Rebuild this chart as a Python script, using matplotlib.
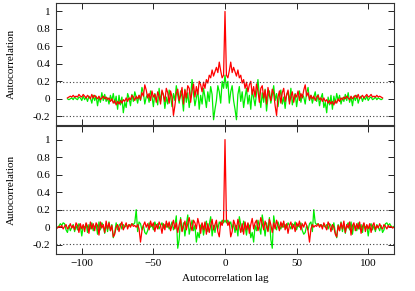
import numpy as np
import matplotlib
matplotlib.use("Agg")
import matplotlib.pyplot as plt

# one-sided autocorrelation (lag 0..N), mirrored to negative lags
top_red = [1.00, 0.27, 0.24, 0.32, 0.42, 0.30, 0.36, 0.31, 0.26, 0.33,
           0.24, 0.27, 0.18, 0.22, 0.12, 0.19, 0.08, 0.16, 0.20, 0.05,
           0.14, 0.02, 0.17, 0.09, -0.04, 0.12, 0.15, 0.01, 0.10, -0.06,
           0.13, 0.04, -0.02, 0.11, 0.06, -0.08, -0.19, 0.02, 0.09, -0.05,
           0.07, 0.12, -0.03, 0.04, 0.10, -0.06, 0.03, 0.08, -0.04, 0.05,
           0.02, 0.09, -0.02, 0.06, 0.01, 0.10, 0.16, 0.03, 0.07, -0.01,
           0.04, 0.00, 0.03, -0.02, 0.02, 0.04, -0.01, 0.01, -0.03, 0.01,
           -0.03, -0.01, -0.05, -0.02, -0.06, -0.03, -0.07, -0.02, -0.05, 0.00,
           -0.03, 0.01, -0.01, 0.02, 0.00, 0.03, 0.01, -0.01, 0.03, 0.00,
           0.02, 0.04, 0.01, 0.05, 0.00, 0.02, 0.04, 0.01, 0.03, 0.05,
           0.02, 0.03, 0.05, 0.02, 0.03, 0.02, 0.04, 0.02, 0.03, 0.02,
           0.01]
top_green = [0.27, 0.12, 0.20, -0.05, 0.08, 0.15, -0.02, -0.12, -0.24, 0.05,
             0.14, -0.03, 0.08, -0.10, 0.02, 0.12, -0.06, 0.04, -0.12, 0.10,
             0.01, -0.08, 0.06, 0.22, 0.03, -0.10, 0.07, -0.04, 0.11, -0.14,
             0.02, 0.09, -0.05, 0.04, 0.15, -0.02, 0.06, -0.09, 0.03, 0.10,
             -0.06, 0.02, -0.11, 0.05, 0.08, -0.03, 0.12, -0.07, 0.01, 0.06,
             -0.09, 0.03, 0.09, -0.04, 0.05, 0.02, -0.06, 0.07, 0.13, -0.02,
             0.04, -0.05, 0.02, 0.08, -0.03, 0.05, -0.08, 0.01, 0.06, -0.10,
             -0.04, -0.16, 0.02, -0.07, 0.04, -0.12, 0.03, -0.05, 0.06, -0.02,
             0.04, -0.06, 0.01, -0.03, 0.05, -0.02, 0.07, -0.04, 0.02, -0.08,
             0.03, -0.02, 0.04, -0.05, 0.01, 0.03, -0.03, 0.02, -0.01, 0.03,
             -0.02, 0.01, 0.02, -0.01, 0.00, 0.02, -0.01, 0.01, 0.00, -0.01,
             0.00]
bot_red = [1.00, 0.09, 0.02, 0.06, -0.11, -0.05, 0.08, 0.03, -0.03, 0.09,
           0.02, -0.06, 0.04, -0.08, 0.06, -0.03, 0.05, -0.07, 0.03, 0.10,
           -0.02, 0.05, 0.08, -0.04, 0.02, 0.11, 0.04, -0.03, 0.07, 0.01,
           -0.05, 0.09, 0.03, -0.06, 0.05, -0.02, 0.08, 0.02, -0.04, 0.06,
           0.00, 0.07, -0.03, 0.04, -0.07, 0.02, 0.06, -0.02, 0.03, -0.05,
           0.05, 0.01, 0.07, -0.03, 0.04, 0.00, 0.06, 0.02, -0.04, -0.17,
           -0.02, 0.03, 0.00, 0.02, 0.01, 0.04, 0.00, 0.03, -0.02, 0.05,
           0.01, -0.03, 0.06, 0.02, -0.05, 0.03, 0.00, -0.08, -0.11, 0.02,
           -0.04, 0.05, -0.02, 0.07, -0.06, 0.03, -0.01, 0.06, -0.09, 0.02,
           0.05, -0.04, 0.04, -0.02, 0.06, -0.07, 0.01, 0.05, -0.05, 0.03,
           -0.02, 0.04, -0.06, 0.02, 0.05, -0.03, 0.02, -0.01, 0.04, 0.00,
           -0.02, 0.03, 0.01, -0.02, 0.02, 0.00, 0.01, -0.01, 0.00]
bot_green = [0.08, 0.05, 0.08, 0.03, 0.06, -0.02, 0.04, -0.06, 0.02, -0.10,
             0.12, 0.03, -0.05, 0.07, 0.01, -0.09, 0.04, 0.02, -0.12, -0.06,
             -0.17, 0.02, -0.04, 0.08, 0.00, -0.08, 0.14, 0.03, -0.10, 0.05,
             -0.04, 0.11, -0.14, -0.24, 0.13, 0.02, -0.03, 0.06, 0.01, -0.02,
             0.04, 0.00, 0.03, -0.01, 0.05, 0.02, -0.02, 0.04, 0.01, 0.06,
             -0.03, 0.03, 0.00, 0.05, -0.04, -0.08, -0.06, 0.02, -0.03, 0.04,
             0.06, -0.05, 0.20, 0.05, 0.03, 0.04, 0.02, 0.03, 0.01, 0.02,
             0.00, 0.03, -0.02, 0.04, 0.02, -0.03, 0.05, -0.06, -0.12, 0.03,
             -0.04, 0.06, -0.05, 0.04, -0.07, 0.02, 0.05, -0.03, 0.06, -0.08,
             0.03, 0.01, -0.04, 0.05, -0.02, 0.03, -0.06, 0.04, -0.01, 0.02,
             -0.10, 0.01, 0.04, -0.03, 0.02, -0.05, 0.03, 0.00, -0.04, 0.02,
             -0.06, -0.03, 0.04, 0.05, 0.02, 0.04, 0.01, 0.00, 0.01]
conf = 0.195
yticks = [-0.2, 0, 0.2, 0.4, 0.6, 0.8, 1]
ytick_labels = ["-0.2", "0", "0.2", "0.4", "0.6", "0.8", "1"]
xticks = [-100, -50, 0, 50, 100]


def mirror(half):
    half = np.asarray(half)
    n = len(half) - 1
    return np.arange(-n, n + 1), np.concatenate([half[:0:-1], half])


plt.rcParams['font.family'] = ['Liberation Serif', 'DejaVu Serif']
plt.rcParams['font.size'] = 8

fig = plt.figure(figsize=(4.15, 2.91), dpi=100)
W, H = 415, 291
left, right = 56 / W, 394 / W
ax1 = fig.add_axes([left, 1 - 125 / H, right - left, 122.3 / H])
ax2 = fig.add_axes([left, 1 - 253.5 / H, right - left, 127.5 / H])

panels = [(ax1, top_green, top_red, (-0.3, 1.1)),
          (ax2, bot_green, bot_red, (-0.3, 1.155))]
for ax, g, r, ylim in panels:
    lg, vg = mirror(g)
    lr, vr = mirror(r)
    ax.plot(lg, vg, color='#00ee00', lw=0.9)
    ax.plot(lr, vr, color='#ff0000', lw=0.9)
    for c in (conf, -conf):
        ax.axhline(c, color='0.25', lw=0.8, ls=(0, (1, 2)))
    ax.set_xlim(-118, 118)
    ax.set_ylim(*ylim)
    ax.set_yticks(yticks)
    ax.set_yticklabels(ytick_labels)
    ax.set_xticks(xticks)
    ax.tick_params(direction='in', top=True, right=True, length=4,
                   width=0.6, pad=4, labelsize=8)
    for s in ax.spines.values():
        s.set_linewidth(0.8)
        s.set_color('0.2')
    ax.set_ylabel('Autocorrelation', fontsize=8)
    ax.yaxis.set_label_coords(-0.118, 0.5)

ax1.set_xticklabels([])
ax2.set_xlabel('Autocorrelation lag', fontsize=8, labelpad=4)

fig.savefig('out.png', dpi=100)
